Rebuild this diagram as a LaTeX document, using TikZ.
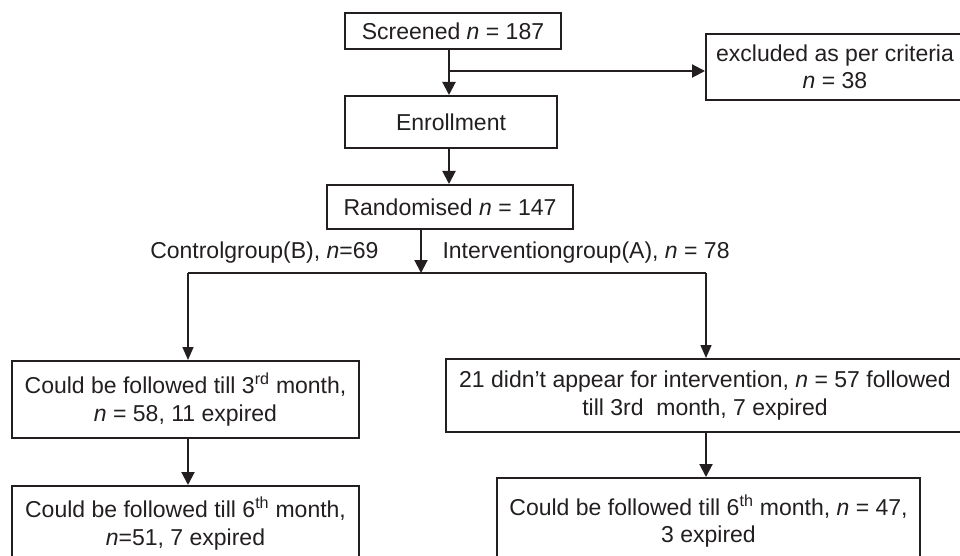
\documentclass[tikz,border=0pt]{standalone}
\usepackage{fontspec}
\setmainfont{Liberation Sans}
\usetikzlibrary{arrows.meta}
\definecolor{ink}{RGB}{35,31,32}
\begin{document}
\begin{tikzpicture}[x=1pt,y=-1pt,
  every node/.style={font=\fontsize{23}{27.5}\selectfont, text=ink},
  box/.style={draw=ink, line width=2pt, inner sep=0pt, align=center},
  conn/.style={draw=ink, line width=2pt, -{Triangle[width=13pt,length=13pt]}},
  thinline/.style={draw=ink, line width=1.4pt},
  thinarr/.style={thinline, -{Triangle[width=11pt,length=13pt]}}]
\useasboundingbox (0,0) rectangle (960,556);
\fill[white] (0,0) rectangle (960,556);

\node[box, minimum width=216pt, minimum height=36pt] (scr) at (453,31) {Screened \textit{n} = 187};
\node[box, minimum width=258pt, minimum height=66pt] (exc) at (835,67) {excluded as per criteria\\\textit{n} = 38};
\node[box, minimum width=212pt, minimum height=52pt] (enr) at (451,122) {Enrollment};
\node[box, minimum width=246pt, minimum height=44pt] (ran) at (450,207) {Randomised \textit{n} = 147};
\node[anchor=base east] (lc) at (382,258) {Controlgroup(B), \textit{n}=69};
\node[anchor=base west] (li) at (439,258) {Interventiongroup(A), \textit{n} = 78};
\node[box, minimum width=347pt, minimum height=77pt] (c3) at (185.5,399.5) {Could be followed till 3\textsuperscript{rd} month,\\\textit{n} = 58, 11 expired};
\node[box, minimum width=347pt, minimum height=75pt] (c6) at (185.5,523.5) {Could be followed till 6\textsuperscript{th} month,\\\textit{n}=51, 7 expired};
\node[box, minimum width=518pt, minimum height=73pt] (i3) at (705,395.5) {21 didn’t appear for intervention, \textit{n} = 57 followed\\till 3rd\ \ month, 7 expired};
\node[box, minimum width=423pt, minimum height=86pt] (i6) at (708.5,521) {Could be followed till 6\textsuperscript{th} month, \textit{n} = 47,\\3 expired};

\coordinate (j1) at (449,71);
\draw[draw=ink, line width=2pt] (scr.south -| j1) -- (j1);
\draw[conn] (j1) -- (j1 |- enr.north);
\draw[conn] (j1) -- (j1 -| exc.west);
\draw[conn] (enr.south -| j1) -- (ran.north -| j1);
\coordinate (split) at (421,273);
\draw[conn] (ran.south -| split) -- (split);
\coordinate (sl) at (188,273);
\coordinate (sr) at (706,273);
\draw[thinline] (sl) -- (sr);
\draw[thinarr] (sl) -- (sl |- c3.north);
\draw[thinarr] (sr) -- (sr |- i3.north);
\draw[conn] (c3.south -| sl) -- (c6.north -| sl);
\draw[conn] (i3.south -| sr) -- (i6.north -| sr);
\end{tikzpicture}
\end{document}
